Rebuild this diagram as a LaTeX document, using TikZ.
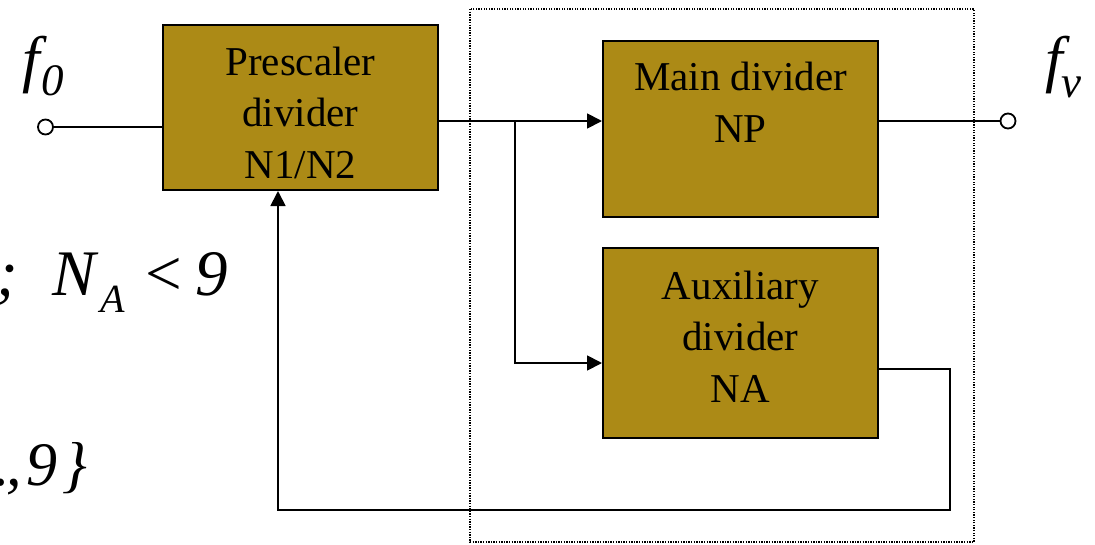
\documentclass[tikz,border=0pt]{standalone}
\usepackage{fontspec}
\setmainfont{Liberation Serif}
\usetikzlibrary{arrows.meta}
\definecolor{boxfill}{RGB}{172,138,22}
\tikzset{
  dbox/.style={draw=black, line width=2pt, fill=boxfill, inner sep=0pt},
  btext/.style={inner sep=0pt, align=center, font=\fontsize{41}{51.5}\selectfont, anchor=base},
  conn/.style={draw=black, line width=1.8pt},
  arr/.style={conn, -{Triangle[length=15pt,width=15pt]}},
  port/.style={circle, draw=black, line width=1.8pt, fill=white, minimum size=15pt, inner sep=0pt},
  mtxt/.style={inner sep=0pt, anchor=base west},
}
\begin{document}
\begin{tikzpicture}[x=1pt,y=-1pt]
\useasboundingbox (0,0) rectangle (1095,544);
\clip (0,0) rectangle (1095,544);
% dotted frame
\draw[line width=1.4pt, dash pattern=on 1.3pt off 1.3pt] (470,9) rectangle (974,542);
% boxes
\node[dbox, minimum width=275pt, minimum height=165pt] (pre) at (300.5,107.5) {};
\node[dbox, minimum width=275pt, minimum height=176pt] (main) at (740.5,129) {};
\node[dbox, minimum width=275pt, minimum height=190pt] (aux) at (740.5,343) {};
\node[btext] (pretxt) at (300.5,178) {Prescaler\\divider\\N1/N2};
\node[btext] (maintxt) at (740.5,142) {Main divider\\NP};
\node[btext] (auxtxt) at (740.5,402) {Auxiliary\\divider\\NA};
% ports
\node[port] (in) at (45.5,127) {};
\node[port] (out) at (1008,121) {};
\coordinate (br) at (515,121);
\coordinate (fbr) at (950,369);
\coordinate (fbl) at (278,510);
% connectors
\draw[conn] (in) -- (pre.west |- in);
\draw[conn] (pre.east |- br) -- (br);
\draw[arr] (br) -- (main.west |- br);
\draw[arr] (br) |- (aux.west |- 0,363);
\draw[conn] (main.east |- out) -- (out);
\draw[arr] (aux.east |- fbr) -- (fbr) |- (fbl) -- (pre.south -| fbl);
% labels
\node[mtxt] (f0f) at (22,80) {\fontsize{63}{63}\selectfont\itshape f};
\node[mtxt] (f0s) at (41,95) {\fontsize{45}{45}\selectfont\itshape 0};
\node[mtxt] (fvf) at (1045,80) {\fontsize{63}{63}\selectfont\itshape f};
\node[mtxt] (fvs) at (1061,97) {\fontsize{45}{45}\selectfont\itshape v};
% formula fragments
\node[mtxt] (semi) at (-4,295) {\fontsize{65}{65}\selectfont\itshape ;};
\node[mtxt] (nn) at (52,295) {\fontsize{65}{65}\selectfont\itshape N};
\node[mtxt] (na) at (100,312) {\fontsize{40}{40}\selectfont\itshape A};
\node[mtxt] (lt) at (145,295) {\fontsize{65}{65}\selectfont <};
\node[mtxt] (nine) at (195,295) {\fontsize{65}{65}\selectfont\itshape 9};
\node[mtxt] (dot) at (-6,485) {\fontsize{62}{62}\selectfont\itshape .};
\node[mtxt] (comma) at (6,485) {\fontsize{62}{62}\selectfont\itshape ,};
\node[mtxt] (nine2) at (26,485) {\fontsize{62}{62}\selectfont\itshape 9};
\node[mtxt] (brace) at (62,485) {\fontsize{62}{62}\selectfont\itshape \}};
\end{tikzpicture}
\end{document}
